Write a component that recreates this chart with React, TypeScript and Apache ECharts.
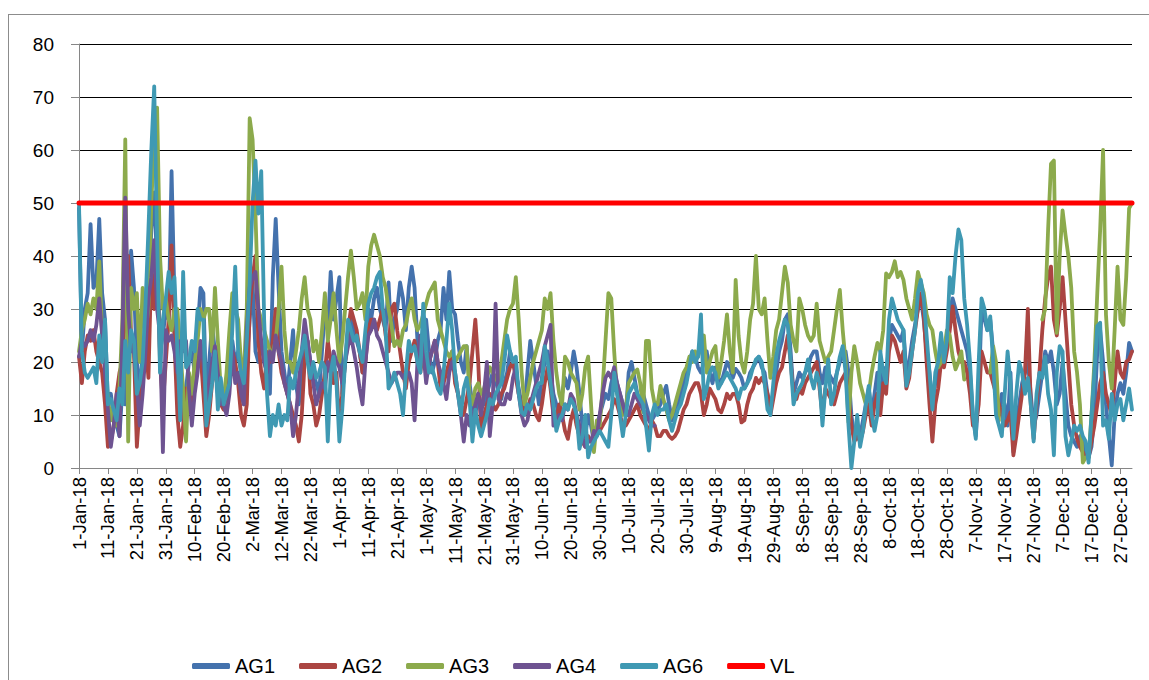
import React, { useEffect, useRef } from "react";
import * as echarts from "echarts";

const MONTHS = ["Jan", "Feb", "Mar", "Apr", "May", "Jun", "Jul", "Aug", "Sep", "Oct", "Nov", "Dec"];
const MONTH_DAYS = [31, 28, 31, 30, 31, 30, 31, 31, 30, 31, 30, 31];
const categories: string[] = [];
MONTHS.forEach((m, i) => {
  for (let d = 1; d <= MONTH_DAYS[i]; d++) categories.push(`${d}-${m}-18`);
});

const n = null;

const AG1 = [
  49,22,30,33,46,34,35,47,33,28, 12,14,10,8,6,15,12,25,41,34, 20,14,22,25,30,45,52,38,22,25,
  30,28,56,32,24,18,10,15,20,22, 18,26,34,33,12,20,27,22,18,14, 12,16,18,24,20,22,18,12,20,28,
  35,22,20,24,20,18,14,36,47,34, 22,18,14,20,26,16,12,18,22,24, 20,18,16,14,22,30,26,37,28,32,
  36,14,20,24,28,26,24,22,18,20, 30,28,32,34,30,28,26,35,24,28, 30,35,32,26,34,38,34,24,20,22,
  28,22,18,20,24,26,34,28,37,30, 29,24,20,18,23,16,12,10,14,12, 12,14,16,18,17,14,13,16,18,22,
  20,18,15,12,11,18,24,20,16,12, 17,20,22,18,14,12,10,14,17,15, 18,22,19,14,8,6,10,8,5,8,
  10,12,14,13,16,18,16,14,12,10, 18,20,17,14,12,14,12,10,9,10, 11,12,14,15.5,12,9,10,12,14,16,
  18,20,22,21,19,18,20,22,18,16, 19,17,16,18,20,19,17,18.7,18,17, 15,16,18,19,20,21,19,18,14,12,
  14,18,22,24,28,29,22,14,16,18, 17,18,19,21,22,22,18,16,19,18, 17,16,18,20,21,22,18,10,6,8,
  6,9,12,15,10,14,18,12,19,16, 24,27,26,25,24,26,18,20,24,27, 30,32,28,22,18,12,16,18,24,22,
  24,30,32,30,28,26,24,22,18,10, 6,14,30,28,26,28,22,14,10,14, 12,8,18,3,8,12,16,18,20,14,
  8,10,14,18,22,20,22,18,12,14, 20,14,8,6,5,4,6,5,3,2, 4,10,22,26,20,12,6,0.5,10,14,
  16,14,18,23.6,22,
];

const AG2 = [
  21,16,22,25,24,26,22,20,18,12, 4,5,8,14,18,20,30,40,25,22, 4,12,18,24,17,38,30,43,20,12,
  20,28,42,24,10,4,8,15,14,12, 18,20,22,14,6,10,16,20,14,12, 11,14,18,22,20,16,10,8,12,30,
  36,40,24,18,15,22,20,24,30,22, 18,16,14,12,10,8,5,10,20,24, 14,12,8,10,14,18,24,20,16,18,
  8,14,20,26,30,28,26,22,18,20, 26,28,28,26,28,30,25,22,30,31, 26,22,18,15,20,22,24,20,18,22,
  18,20,22,24,20,15,16,18,20,22, 16,14,12,10,13,16,22,28,20,7, 10,12,14,12,11,12,14,15,17,19,
  20,17,14,12,10,11,13,12,10,9, 12,16,19,15,10,9,12,10,7,5.5, 9,11,8,6,5,4,6,5,6,7,
  7,8,9,10,11,13,12,10,8,8, 9,10,11,12,10,9,8,7,9,8, 6,6,7,7,6,5.5,6,7,9,11,
  12,14,15,16,16,14,10,12,15,14, 13,11,10.5,12,14,13,14,14,12,8.6, 9,12,14,15,17,16,17,16,14,10,
  13,16,18,19,22,25,20,14,13,15, 14,16,17,18,19,20,15,10,15,14, 13,12,14,16,17,18,14,8,5,6,
  5,7,10,12,8,12,14,10,16,14, 22,25,24,22,20,22,15,17,22,26, 30,33,29,20,12,5,12,15,20,19,
  22,26,30.5,26,22,20,20,18,14,8, 8,12,22,20,18,18,16,14,12,10, 8,9,10.5,2.4,6,10,14,18,30,12,
  5.5,12,18,26,32,36,38,28,25,30, 36,28,20,12,8,5.5,4,3,2,2, 5,8,12,16,18,14,12,10,16,22,
  18,17,20,20.5,22,
];

const AG3 = [
  22,26,28,31,29,32,30,39,25,20, 13,9,12,8,15,28,62,5,34,30, 33,20,34,26,30,50,62,68,40,30,
  32,28,26,30,30,22,15,5,18,14, 20,24,30,28,30,30,22,34,24,15, 13,18,26,33,30,28,20,18,30,66,
  62,48,30,28,26,24,22,22,24,30, 38,26,20,20,18,22,26,32,36,30, 28,22,24,20,26,33,24,28,33,26,
  20,24,30,36,41,36,30,31,33,28, 38,42,44,42,40,36,34,30,27,23, 24,23,26,27,30,32,28,26,27,29,
  31,33,34,35,28,26,24,22,21,22, 20,21,22,23,23,14,12,15,16,14, 15,17,19,18,17,16,20,24,28,30,
  31,36,28,18,12,14,17,20,22,24, 26,32,30,33,24,18,14,12,21,20, 18,17,16,11,14,19,21,12,3,9,
  8,15,24,33,32,22,14,12,10,11, 16,17,18,18.6,16,10.5,24,24,15,12, 12,15.5,13,11,9,10,12,14,16,18,
  19,21,20,22,21,23,25,18,20,22, 23,17,20,24,29,22,18,35.5,25,20, 18,22,28,31,40,30,29,32,24,17,
  21,26,28,33,38,35,27,24,22,32, 30,27,25,24,25,31,24,22,20,21, 22,26,30,33.6,26,20,8.6,18,23,20,
  16,14,12,14,18,21,23.6,22,26,36.7, 36,37,39,36,37,35.5,32,30,28,32, 37,35,33,29,27,26,22,19,20,22,
  26,25,21,18.6,20,22,16.7,n,n,n, n,n,n,n,n,18,23,20,9,n, n,n,n,n,n,n,n,n,n,n,
  n,n,n,28,30,45,57.4,58,25.5,40, 48.6,44,40,34,22,18,12,1,2,2, 10,20,33,45,60,29,20,15,26,38,
  28,27,36,49,50,
];

const AG4 = [
  21,24,23,24,26,24,27,32,25,18, 11,4,8,14,6,25,51,30,22,22, 16,8,14,22,32,36,43,30,25,3,
  26,24,25,22,18,24,22,24,15,8, 14,18,24,20,12,16,20,23,18,12, 12,10,14,22,16,18,14,12,26,34,
  36,37,30,24,20,18,22,20,25,22, 20,16,14,12,6,10,16,22,28,24, 20,16,12,14,16,15,20,18,22,20,
  19,16,20,23,25,22,19,15,12,20, 25,26,28,25,24,22,20,18,16,17, 18,18,17,18,18,16,9,20,25,22,
  16,20,22,24,20,18,16,13,18,20, 18,14,10,5,10,8,9,12,14,10, 14,20,6,12,31,13,12,12,14,13,
  17,19,14,10,8,9,12,14,16,18, 20,23,25,27,8,9,10,9,12,11, 14,13,10,8,6,4,5,5,7,6,
  10,14,17,18,17,19,16,14,12,10, 10,12,14,13,12,11,10,9,8,8,
];

const AG6 = [
  50,22,18,17,18,19,16,25,20,28, 12,13,11,9,15,12,24,18,26,24, 14,16,20,31,45,60,72,43,18,28,
  32,37,33,36,22,9,37,19,20,24, 22,30,28,28,8,12,16,22,11,17, 12,14,16,26,38,22,18,16,24,35,
  50,58,48,56,28,14,6,10,8,12, 8,10,9,17,15,18,20,22,25,20, 17,20,17,18,20,19,5,18,21,16,
  5,11,20,28,26,24,25,22,20,26, 31,33,34,36,37,30,26,15,16,18, 16,14,10,18,24,22,23,20,18,31,
  22,18,19,17,15,14,18,24,31,26, 18,14,10,15,17,13,5,11,8,6, 8,10,13,12,14,15,16,20,25,22,
  20,21,14,10.5,10,12,11,13,15,16, 16,23,20,16,12,7,9,10,12,11, 13,12,10,3.6,6,10,2,4,5,6,
  7,6,5,4,10,18,14,10,6,10, 14,15,16,14,13,12,8,3.3,10,12, 10,11,11,12,9,7,9,11,12,14,
  16,19,22,20,21,29,13,15,18,19, 18,15,16,17,18,17,16,15,13,15, 15,16,17,19,20.5,21,20,16,11,10,
  16,21,24,26,28,27,20,12,14,15, 16,18,20.5,17,15,18,16,8,15,20.5, 12,14,18,21,23,18,8,0,5,10,
  4,7,12,15.5,10,7,10,22,18,16, 28,32,30,28,27,26,15.5,18,22,26, 33,35.5,32,25,18,11,18,20,25.5,20,
  24,36,33,40,45,43,32,27,20,10, 5.5,20,32,30,26,28.6,20,10,8,6, 14,22,16,5.5,14,20,18,14,17,12,
  5,14,18,17,21,14,11,2.4,18,23, 22,6,2.4,5,8,7,8,6,5,1, 10,18,26.8,27.4,8,9,5.5,14,9,12,
  13,9,12,15,11,
];

const VL_VALUE = 50;
const VL = categories.map(() => VL_VALUE);

const SERIES = [
  { name: "AG1", data: AG1, color: "#4472ad", width: 3.8 },
  { name: "AG2", data: AG2, color: "#ab4542", width: 3.8 },
  { name: "AG3", data: AG3, color: "#8caa4c", width: 3.8 },
  { name: "AG4", data: AG4, color: "#6e5391", width: 3.8 },
  { name: "AG6", data: AG6, color: "#3f99b3", width: 3.8 },
  { name: "VL", data: VL, color: "#ff0000", width: 5 },
];

const FONT = "'Liberation Sans', Arial, sans-serif";

export default function App() {
  const ref = useRef<HTMLDivElement>(null);
  useEffect(() => {
    if (!ref.current) return;
    const chart = echarts.init(ref.current, null, { renderer: "svg" });
    chart.setOption({
      animation: false,
      backgroundColor: "#ffffff",
      textStyle: { fontFamily: FONT },
      grid: { left: 70, right: 20, top: 29, bottom: 215, containLabel: false },
      legend: {
        data: SERIES.map((s) => s.name),
        left: 178,
        top: 636,
        icon: "roundRect",
        itemWidth: 38,
        itemHeight: 6,
        itemGap: 24,
        textStyle: { fontSize: 20, color: "#000", fontFamily: FONT },
      },
      xAxis: {
        type: "category",
        boundaryGap: false,
        data: categories,
        axisLine: { lineStyle: { color: "#868686", width: 1 } },
        axisTick: { show: true, interval: 9, length: 6, lineStyle: { color: "#868686" } },
        axisLabel: {
          interval: 9,
          rotate: 90,
          fontSize: 18.5,
          color: "#000",
          margin: 9,
          fontFamily: FONT,
        },
        splitLine: { show: false },
      },
      yAxis: {
        type: "value",
        min: 0,
        max: 80,
        interval: 10,
        axisLine: { show: true, lineStyle: { color: "#868686", width: 1 } },
        axisTick: { show: true, length: 8, lineStyle: { color: "#868686" } },
        axisLabel: { fontSize: 19, color: "#000", margin: 25, fontFamily: FONT },
        splitLine: { show: true, lineStyle: { color: "#000000", width: 1 } },
      },
      series: SERIES.map((s) => ({
        name: s.name,
        type: "line",
        data: s.data,
        showSymbol: false,
        symbol: "none",
        connectNulls: false,
        color: s.color,
        lineStyle: { color: s.color, width: s.width, join: "round", cap: "round" },
        emphasis: { disabled: true },
      })),
    });
    return () => chart.dispose();
  }, []);
  return (
    <div
      style={{
        position: "fixed",
        left: 8,
        top: 14,
        width: 1145,
        height: 670,
        border: "1px solid #8c8c8c",
        boxSizing: "border-box",
        background: "#fff",
      }}
    >
      <div ref={ref} style={{ width: 1143, height: 668 }} />
    </div>
  );
}
